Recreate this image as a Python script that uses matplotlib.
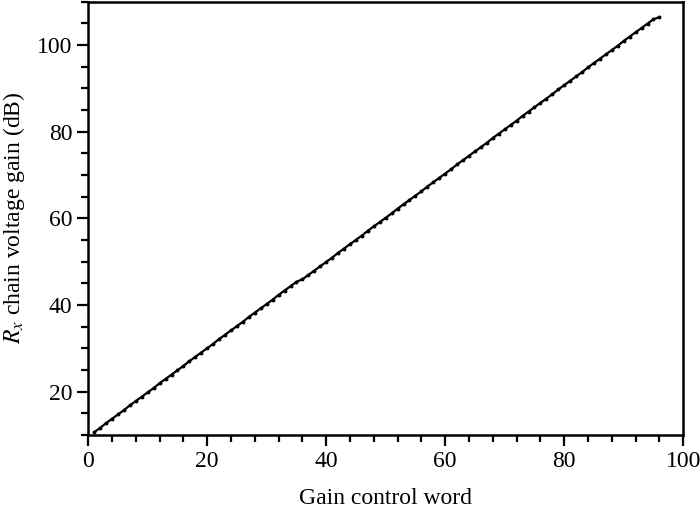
import matplotlib
matplotlib.use("Agg")
import matplotlib.pyplot as plt
from matplotlib.ticker import MultipleLocator

plt.rcParams['font.family'] = ['Liberation Serif', 'DejaVu Serif']
plt.rcParams['mathtext.fontset'] = 'stix'

# gain control word vs Rx chain voltage gain (dB)
word = list(range(1, 97))
gain = [10.6, 11.6, 12.7, 13.7, 14.7, 15.7, 16.8, 17.8, 18.8, 19.8,
        20.8, 21.9, 22.9, 23.9, 24.9, 25.9, 27.0, 28.0, 29.0, 30.0,
        31.0, 32.1, 33.1, 34.1, 35.1, 36.1, 37.2, 38.2, 39.2, 40.2,
        41.2, 42.3, 43.3, 44.3, 45.3, 45.9, 46.9, 47.9, 48.9, 49.9,
        50.9, 52.0, 53.0, 54.0, 55.0, 56.0, 57.1, 58.1, 59.1, 60.1,
        61.1, 62.2, 63.2, 64.2, 65.2, 66.2, 67.3, 68.3, 69.3, 70.3,
        71.3, 72.4, 73.4, 74.4, 75.4, 76.4, 77.4, 78.5, 79.5, 80.5,
        81.5, 82.5, 83.6, 84.6, 85.6, 86.6, 87.6, 88.6, 89.7, 90.7,
        91.7, 92.7, 93.7, 94.8, 95.8, 96.8, 97.8, 98.8, 99.8, 100.9,
        101.9, 102.9, 103.9, 104.9, 105.9, 106.4]

fig = plt.figure(figsize=(7, 5.08), dpi=100)
ax = fig.add_axes([0.126, 0.144, 0.85, 0.853])

ax.plot(word, gain, color='black', lw=1.6, marker='o', ms=1.8)

ax.set_xlim(0, 100)
ax.set_ylim(10, 110)
ax.xaxis.set_major_locator(MultipleLocator(20))
ax.xaxis.set_minor_locator(MultipleLocator(4))
ax.yaxis.set_major_locator(MultipleLocator(20))
ax.yaxis.set_minor_locator(MultipleLocator(5))

for s in ax.spines.values():
    s.set_linewidth(1.8)
ax.tick_params(which='both', direction='out', width=1.6, labelsize=17, colors='black')
ax.tick_params(which='major', length=8)
ax.tick_params(which='minor', length=5)

ax.set_xlabel('Gain control word', fontsize=17, labelpad=12)
ax.set_ylabel(r'$R_x$ chain voltage gain (dB)', fontsize=17, labelpad=7)

fig.savefig('out.png', dpi=100)
